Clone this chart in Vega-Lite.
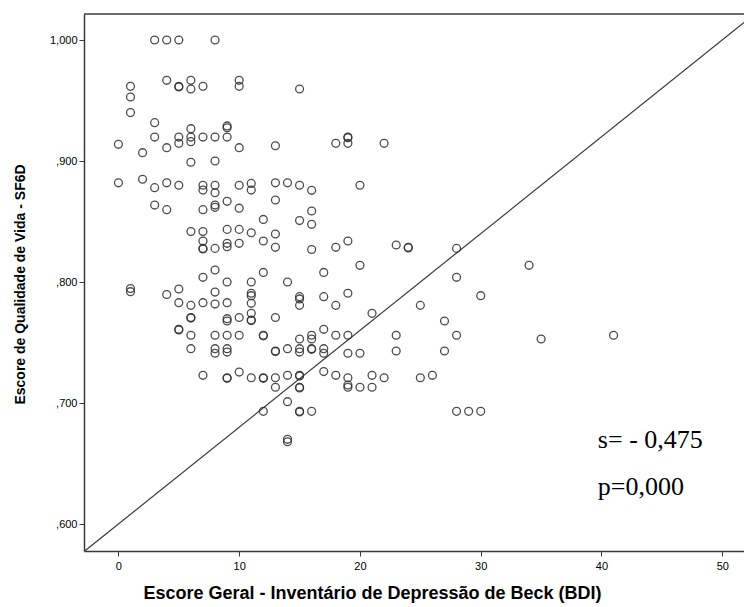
{
  "$schema": "https://vega.github.io/schema/vega-lite/v6.json",
  "width": 660,
  "height": 537,
  "autosize": {"type": "none"},
  "padding": {"left": 84, "top": 14, "right": 0, "bottom": 56},
  "background": "white",
  "config": {
    "view": {"stroke": null},
    "axis": {
      "domain": true,
      "domainColor": "#3a3a3a",
      "domainWidth": 1.5,
      "grid": false,
      "tickColor": "#3a3a3a",
      "tickSize": 5,
      "tickWidth": 1,
      "labelFont": "Liberation Sans",
      "labelFontSize": 11,
      "labelColor": "#000",
      "titleFont": "Liberation Sans",
      "titleFontSize": 14,
      "titleFontWeight": "bold",
      "titleColor": "#000"
    }
  },
  "datasets": {
    "pts": [
      {"bdi": 0, "sf6d": 0.9138}, {"bdi": 0, "sf6d": 0.882},
      {"bdi": 1, "sf6d": 0.9617}, {"bdi": 1, "sf6d": 0.9529}, {"bdi": 1, "sf6d": 0.940}, {"bdi": 1, "sf6d": 0.7946}, {"bdi": 1, "sf6d": 0.792},
      {"bdi": 2, "sf6d": 0.9069}, {"bdi": 2, "sf6d": 0.8849},
      {"bdi": 3, "sf6d": 1.0}, {"bdi": 3, "sf6d": 0.9317}, {"bdi": 3, "sf6d": 0.9198}, {"bdi": 3, "sf6d": 0.878}, {"bdi": 3, "sf6d": 0.8636},
      {"bdi": 4, "sf6d": 1.0}, {"bdi": 4, "sf6d": 0.9667}, {"bdi": 4, "sf6d": 0.911}, {"bdi": 4, "sf6d": 0.882}, {"bdi": 4, "sf6d": 0.8598}, {"bdi": 4, "sf6d": 0.7897},
      {"bdi": 5, "sf6d": 1.0}, {"bdi": 5, "sf6d": 0.9617}, {"bdi": 5, "sf6d": 0.9612}, {"bdi": 5, "sf6d": 0.9198}, {"bdi": 5, "sf6d": 0.9146}, {"bdi": 5, "sf6d": 0.880}, {"bdi": 5, "sf6d": 0.7942}, {"bdi": 5, "sf6d": 0.7829}, {"bdi": 5, "sf6d": 0.7609}, {"bdi": 5, "sf6d": 0.7604},
      {"bdi": 6, "sf6d": 0.9667}, {"bdi": 6, "sf6d": 0.9595}, {"bdi": 6, "sf6d": 0.9267}, {"bdi": 6, "sf6d": 0.9198}, {"bdi": 6, "sf6d": 0.916}, {"bdi": 6, "sf6d": 0.899}, {"bdi": 6, "sf6d": 0.8417}, {"bdi": 6, "sf6d": 0.7807}, {"bdi": 6, "sf6d": 0.7707}, {"bdi": 6, "sf6d": 0.7702}, {"bdi": 6, "sf6d": 0.756}, {"bdi": 6, "sf6d": 0.7449},
      {"bdi": 7, "sf6d": 0.9617}, {"bdi": 7, "sf6d": 0.9198}, {"bdi": 7, "sf6d": 0.880}, {"bdi": 7, "sf6d": 0.876}, {"bdi": 7, "sf6d": 0.8598}, {"bdi": 7, "sf6d": 0.8417}, {"bdi": 7, "sf6d": 0.8339}, {"bdi": 7, "sf6d": 0.8278}, {"bdi": 7, "sf6d": 0.8273}, {"bdi": 7, "sf6d": 0.8039}, {"bdi": 7, "sf6d": 0.7829}, {"bdi": 7, "sf6d": 0.7229},
      {"bdi": 8, "sf6d": 1.0}, {"bdi": 8, "sf6d": 0.9198}, {"bdi": 8, "sf6d": 0.900}, {"bdi": 8, "sf6d": 0.880}, {"bdi": 8, "sf6d": 0.8738}, {"bdi": 8, "sf6d": 0.8636}, {"bdi": 8, "sf6d": 0.8617}, {"bdi": 8, "sf6d": 0.8278}, {"bdi": 8, "sf6d": 0.8099}, {"bdi": 8, "sf6d": 0.7917}, {"bdi": 8, "sf6d": 0.7818}, {"bdi": 8, "sf6d": 0.756}, {"bdi": 8, "sf6d": 0.7449}, {"bdi": 8, "sf6d": 0.7411},
      {"bdi": 9, "sf6d": 0.929}, {"bdi": 9, "sf6d": 0.9275}, {"bdi": 9, "sf6d": 0.9198}, {"bdi": 9, "sf6d": 0.8667}, {"bdi": 9, "sf6d": 0.8435}, {"bdi": 9, "sf6d": 0.832}, {"bdi": 9, "sf6d": 0.8292}, {"bdi": 9, "sf6d": 0.800}, {"bdi": 9, "sf6d": 0.7829}, {"bdi": 9, "sf6d": 0.7697}, {"bdi": 9, "sf6d": 0.7678}, {"bdi": 9, "sf6d": 0.756}, {"bdi": 9, "sf6d": 0.7449}, {"bdi": 9, "sf6d": 0.7421}, {"bdi": 9, "sf6d": 0.7209}, {"bdi": 9, "sf6d": 0.7204},
      {"bdi": 10, "sf6d": 0.9667}, {"bdi": 10, "sf6d": 0.9617}, {"bdi": 10, "sf6d": 0.911}, {"bdi": 10, "sf6d": 0.880}, {"bdi": 10, "sf6d": 0.861}, {"bdi": 10, "sf6d": 0.8435}, {"bdi": 10, "sf6d": 0.832}, {"bdi": 10, "sf6d": 0.7707}, {"bdi": 10, "sf6d": 0.756}, {"bdi": 10, "sf6d": 0.7256},
      {"bdi": 11, "sf6d": 0.8815}, {"bdi": 11, "sf6d": 0.876}, {"bdi": 11, "sf6d": 0.8407}, {"bdi": 11, "sf6d": 0.800}, {"bdi": 11, "sf6d": 0.7907}, {"bdi": 11, "sf6d": 0.7887}, {"bdi": 11, "sf6d": 0.7824}, {"bdi": 11, "sf6d": 0.7741}, {"bdi": 11, "sf6d": 0.7686}, {"bdi": 11, "sf6d": 0.7681}, {"bdi": 11, "sf6d": 0.7209},
      {"bdi": 12, "sf6d": 0.8517}, {"bdi": 12, "sf6d": 0.8339}, {"bdi": 12, "sf6d": 0.8079}, {"bdi": 12, "sf6d": 0.756}, {"bdi": 12, "sf6d": 0.7555}, {"bdi": 12, "sf6d": 0.7209}, {"bdi": 12, "sf6d": 0.7204}, {"bdi": 12, "sf6d": 0.6931},
      {"bdi": 13, "sf6d": 0.9126}, {"bdi": 13, "sf6d": 0.882}, {"bdi": 13, "sf6d": 0.8678}, {"bdi": 13, "sf6d": 0.8397}, {"bdi": 13, "sf6d": 0.8287}, {"bdi": 13, "sf6d": 0.7707}, {"bdi": 13, "sf6d": 0.743}, {"bdi": 13, "sf6d": 0.7425}, {"bdi": 13, "sf6d": 0.7209}, {"bdi": 13, "sf6d": 0.713},
      {"bdi": 14, "sf6d": 0.882}, {"bdi": 14, "sf6d": 0.800}, {"bdi": 14, "sf6d": 0.7449}, {"bdi": 14, "sf6d": 0.7229}, {"bdi": 14, "sf6d": 0.7011}, {"bdi": 14, "sf6d": 0.670}, {"bdi": 14, "sf6d": 0.668},
      {"bdi": 15, "sf6d": 0.9595}, {"bdi": 15, "sf6d": 0.880}, {"bdi": 15, "sf6d": 0.8508}, {"bdi": 15, "sf6d": 0.7879}, {"bdi": 15, "sf6d": 0.786}, {"bdi": 15, "sf6d": 0.7807}, {"bdi": 15, "sf6d": 0.7529}, {"bdi": 15, "sf6d": 0.7449}, {"bdi": 15, "sf6d": 0.7421}, {"bdi": 15, "sf6d": 0.7229}, {"bdi": 15, "sf6d": 0.7224}, {"bdi": 15, "sf6d": 0.713}, {"bdi": 15, "sf6d": 0.7125}, {"bdi": 15, "sf6d": 0.6931}, {"bdi": 15, "sf6d": 0.6926},
      {"bdi": 16, "sf6d": 0.8758}, {"bdi": 16, "sf6d": 0.8587}, {"bdi": 16, "sf6d": 0.8477}, {"bdi": 16, "sf6d": 0.8269}, {"bdi": 16, "sf6d": 0.756}, {"bdi": 16, "sf6d": 0.7529}, {"bdi": 16, "sf6d": 0.7449}, {"bdi": 16, "sf6d": 0.7444}, {"bdi": 16, "sf6d": 0.6931},
      {"bdi": 17, "sf6d": 0.8079}, {"bdi": 17, "sf6d": 0.7879}, {"bdi": 17, "sf6d": 0.7609}, {"bdi": 17, "sf6d": 0.7449}, {"bdi": 17, "sf6d": 0.7411}, {"bdi": 17, "sf6d": 0.726},
      {"bdi": 18, "sf6d": 0.9146}, {"bdi": 18, "sf6d": 0.8287}, {"bdi": 18, "sf6d": 0.7807}, {"bdi": 18, "sf6d": 0.756}, {"bdi": 18, "sf6d": 0.7229},
      {"bdi": 19, "sf6d": 0.9198}, {"bdi": 19, "sf6d": 0.9193}, {"bdi": 19, "sf6d": 0.9146}, {"bdi": 19, "sf6d": 0.8339}, {"bdi": 19, "sf6d": 0.7907}, {"bdi": 19, "sf6d": 0.756}, {"bdi": 19, "sf6d": 0.7411}, {"bdi": 19, "sf6d": 0.7209}, {"bdi": 19, "sf6d": 0.7149}, {"bdi": 19, "sf6d": 0.713},
      {"bdi": 20, "sf6d": 0.880}, {"bdi": 20, "sf6d": 0.8138}, {"bdi": 20, "sf6d": 0.7411}, {"bdi": 20, "sf6d": 0.713},
      {"bdi": 21, "sf6d": 0.7741}, {"bdi": 21, "sf6d": 0.7229}, {"bdi": 21, "sf6d": 0.713},
      {"bdi": 22, "sf6d": 0.9146}, {"bdi": 22, "sf6d": 0.7209},
      {"bdi": 23, "sf6d": 0.8306}, {"bdi": 23, "sf6d": 0.756}, {"bdi": 23, "sf6d": 0.743},
      {"bdi": 24, "sf6d": 0.8287}, {"bdi": 24, "sf6d": 0.8282},
      {"bdi": 25, "sf6d": 0.7807}, {"bdi": 25, "sf6d": 0.7209},
      {"bdi": 26, "sf6d": 0.7229},
      {"bdi": 27, "sf6d": 0.7678}, {"bdi": 27, "sf6d": 0.743},
      {"bdi": 28, "sf6d": 0.8278}, {"bdi": 28, "sf6d": 0.8039}, {"bdi": 28, "sf6d": 0.756}, {"bdi": 28, "sf6d": 0.6931},
      {"bdi": 29, "sf6d": 0.6931},
      {"bdi": 30, "sf6d": 0.7887}, {"bdi": 30, "sf6d": 0.6931},
      {"bdi": 34, "sf6d": 0.8138},
      {"bdi": 35, "sf6d": 0.7529},
      {"bdi": 41, "sf6d": 0.756}
    ],
    "ref": [{"x1": -2.85, "y1": 0.5772, "x2": 51.8, "y2": 1.0144}],
    "frame": [{"sf6d": 1.0215}],
    "notes": [
      {"label": "s= - 0,475", "bdi": 39.7, "sf6d": 0.6694},
      {"label": "p=0,000", "bdi": 39.7, "sf6d": 0.6306}
    ]
  },
  "layer": [
    {
      "data": {"name": "frame"},
      "mark": {"type": "rule", "color": "#3a3a3a", "strokeWidth": 1.5},
      "encoding": {
        "y": {"field": "sf6d", "type": "quantitative", "scale": {"domain": [0.5777, 1.0215], "nice": false, "zero": false}}
      }
    },
    {
      "data": {"name": "ref"},
      "mark": {"type": "rule", "color": "#3a3a3a", "strokeWidth": 1.2, "clip": true},
      "encoding": {
        "x": {"field": "x1", "type": "quantitative", "scale": {"domain": [-2.85, 51.8], "nice": false, "zero": false}},
        "y": {"field": "y1", "type": "quantitative", "scale": {"domain": [0.5777, 1.0215], "nice": false, "zero": false}},
        "x2": {"field": "x2"},
        "y2": {"field": "y2"}
      }
    },
    {
      "data": {"name": "pts"},
      "mark": {"type": "point", "shape": "circle", "filled": false, "size": 62, "strokeWidth": 1.3, "color": "#2e2e2e", "opacity": 0.85},
      "encoding": {
        "x": {
          "field": "bdi", "type": "quantitative",
          "scale": {"domain": [-2.85, 51.8], "nice": false, "zero": false},
          "axis": {
            "values": [0, 10, 20, 30, 40, 50],
            "title": "Escore Geral - Inventário de Depressão de Beck (BDI)",
            "labelPadding": 4,
            "titleFontSize": 18,
            "titleX": 288,
            "titleY": 47,
            "titleAnchor": "middle",
            "titleAlign": "center",
            "titleBaseline": "alphabetic"
          }
        },
        "y": {
          "field": "sf6d", "type": "quantitative",
          "scale": {"domain": [0.5777, 1.0215], "nice": false, "zero": false},
          "axis": {
            "values": [0.6, 0.7, 0.8, 0.9, 1.0],
            "labelExpr": "datum.value >= 0.9995 ? '1,000' : ',' + substring(format(datum.value, '.3f'), 2)",
            "labelPadding": 2,
            "title": "Escore de Qualidade de Vida - SF6D",
            "titleX": -64,
            "titleY": 270,
            "titleAngle": -90,
            "titleAlign": "center",
            "titleBaseline": "middle"
          }
        }
      }
    },
    {
      "data": {"name": "notes"},
      "mark": {"type": "text", "align": "left", "baseline": "middle", "font": "Liberation Serif", "fontSize": 26, "color": "#000"},
      "encoding": {
        "x": {"field": "bdi", "type": "quantitative"},
        "y": {"field": "sf6d", "type": "quantitative"},
        "text": {"field": "label"}
      }
    }
  ]
}
